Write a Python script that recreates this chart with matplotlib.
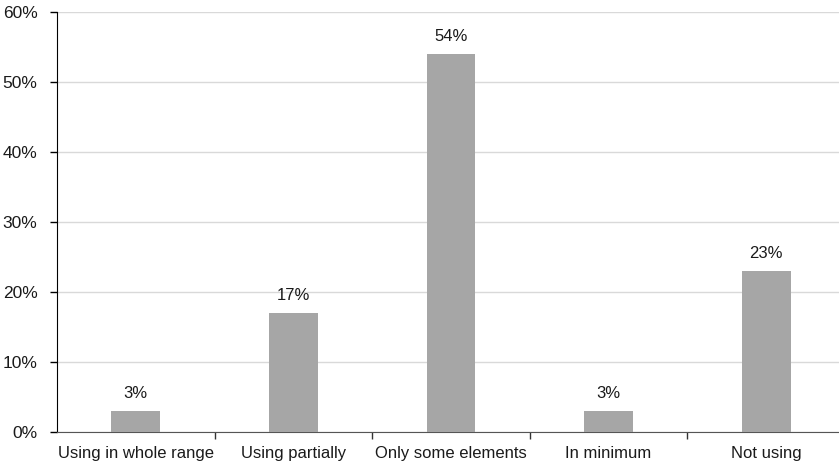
import matplotlib.pyplot as plt
from matplotlib import font_manager
from matplotlib.ticker import FixedLocator, NullFormatter

categories = ["Using in whole range", "Using partially", "Only some elements", "In minimum", "Not using"]
values = [3, 17, 54, 3, 23]
yticks = [0, 10, 20, 30, 40, 50, 60]

names = {f.name for f in font_manager.fontManager.ttflist}
fam = "Liberation Sans Narrow" if "Liberation Sans Narrow" in names else "Liberation Sans"
plt.rcParams['font.family'] = [fam, 'DejaVu Sans']

fig = plt.figure(figsize=(8.39, 4.70), dpi=100)
ax = fig.add_axes([57 / 839, 38 / 470, 788 / 839, 420 / 470])

x = list(range(len(categories)))
bars = ax.bar(x, values, width=0.31, color="#a6a6a6", zorder=3)
for xi, v in zip(x, values):
    ax.annotate(f"{v}%", (xi, v), xytext=(0, 7), textcoords="offset points",
                ha="center", va="bottom", fontsize=12, color="#1a1a1a")

ax.set_xlim(-0.5, len(categories) - 0.5)
ax.set_ylim(0, 60)
ax.set_yticks(yticks)
ax.set_yticklabels([f"{t}%" for t in yticks], fontsize=12.5, color="#1a1a1a")
ax.set_xticks(x)
ax.set_xticklabels(categories, fontsize=12, color="#1a1a1a")
ax.tick_params(axis="x", which="major", length=0, pad=10)
ax.xaxis.set_minor_locator(FixedLocator([i + 0.5 for i in range(len(categories) - 1)]))
ax.xaxis.set_minor_formatter(NullFormatter())
ax.tick_params(axis="x", which="minor", length=5, width=1, color="#333333")
ax.tick_params(axis="y", length=5, width=1, pad=9)

ax.grid(axis="y", color="#d9d9d9", linewidth=1, zorder=0)
ax.spines["top"].set_visible(False)
ax.spines["right"].set_visible(False)
ax.spines["left"].set_color("black")
ax.spines["bottom"].set_color("#555555")

fig.savefig("out.png", dpi=100)
